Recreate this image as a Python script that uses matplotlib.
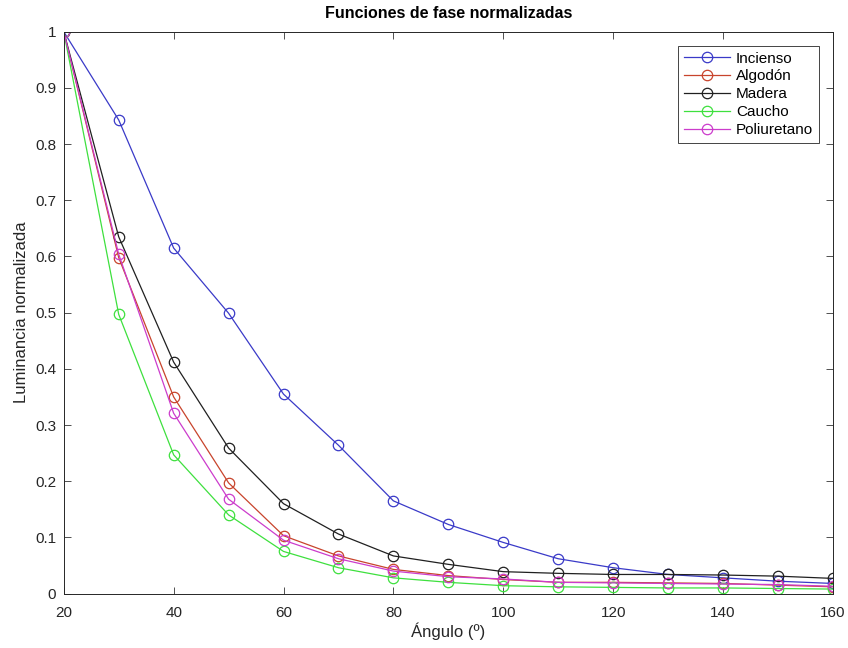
import matplotlib.pyplot as plt
import numpy as np

plt.rcParams['font.family'] = ['Liberation Sans', 'DejaVu Sans']

angulo = [20, 30, 40, 50, 60, 70, 80, 90, 100, 110, 120, 130, 140, 150, 160]
incienso = [1, 0.843, 0.615, 0.499, 0.355, 0.264, 0.165, 0.123, 0.091, 0.062, 0.046, 0.034, 0.028, 0.022, 0.018]
algodon = [1, 0.598, 0.350, 0.197, 0.103, 0.067, 0.043, 0.032, 0.025, 0.020, 0.020, 0.019, 0.018, 0.015, 0.012]
madera = [1, 0.635, 0.412, 0.259, 0.160, 0.106, 0.067, 0.052, 0.039, 0.036, 0.034, 0.034, 0.033, 0.031, 0.027]
caucho = [1, 0.497, 0.247, 0.140, 0.075, 0.046, 0.028, 0.020, 0.014, 0.012, 0.011, 0.010, 0.010, 0.009, 0.008]
poliuretano = [1, 0.604, 0.321, 0.168, 0.095, 0.062, 0.040, 0.030, 0.026, 0.020, 0.019, 0.018, 0.017, 0.016, 0.013]

series = [
    ('Incienso', incienso, '#3a3ac8'),
    ('Algodón', algodon, '#c8442c'),
    ('Madera', madera, '#202020'),
    ('Caucho', caucho, '#3ee03e'),
    ('Poliuretano', poliuretano, '#cc3ccc'),
]

fig = plt.figure(figsize=(8.48, 6.48), dpi=100)
ax = fig.add_axes([0.0752, 0.084, 0.907, 0.867])

for name, vals, col in series:
    ax.plot(angulo, vals, color=col, lw=0.9, marker='o', ms=7.5,
            mfc='none', mec=col, mew=0.9, label=name)

ax.set_xlim(20, 160)
ax.set_ylim(0, 1)
ax.set_xticks(np.arange(20, 161, 20))
ax.set_yticks(np.arange(0, 1.01, 0.1))
ax.set_yticklabels(['0', '0.1', '0.2', '0.3', '0.4', '0.5', '0.6', '0.7', '0.8', '0.9', '1'])
ax.tick_params(direction='in', top=True, right=True, labelsize=11, length=5,
               width=0.6, color='#333333', labelcolor='#262626')
ax.tick_params(axis='x', pad=9)
ax.tick_params(axis='y', pad=5.5)
for s in ax.spines.values():
    s.set_linewidth(0.7)
    s.set_color('#262626')

ax.set_xlabel('Ángulo (º)', fontsize=12, color='#262626', labelpad=2)
ax.set_ylabel('Luminancia normalizada', fontsize=12, color='#262626', labelpad=4)
ax.set_title('Funciones de fase normalizadas', fontsize=11.5, fontweight='bold', pad=10)

leg = ax.legend(loc='upper right', fontsize=11, fancybox=False, framealpha=1,
                edgecolor='#262626', handlelength=3.0, borderaxespad=0.9,
                handletextpad=0.4, labelspacing=0.25)
leg.get_frame().set_linewidth(0.6)

fig.savefig('out.png', dpi=100)
